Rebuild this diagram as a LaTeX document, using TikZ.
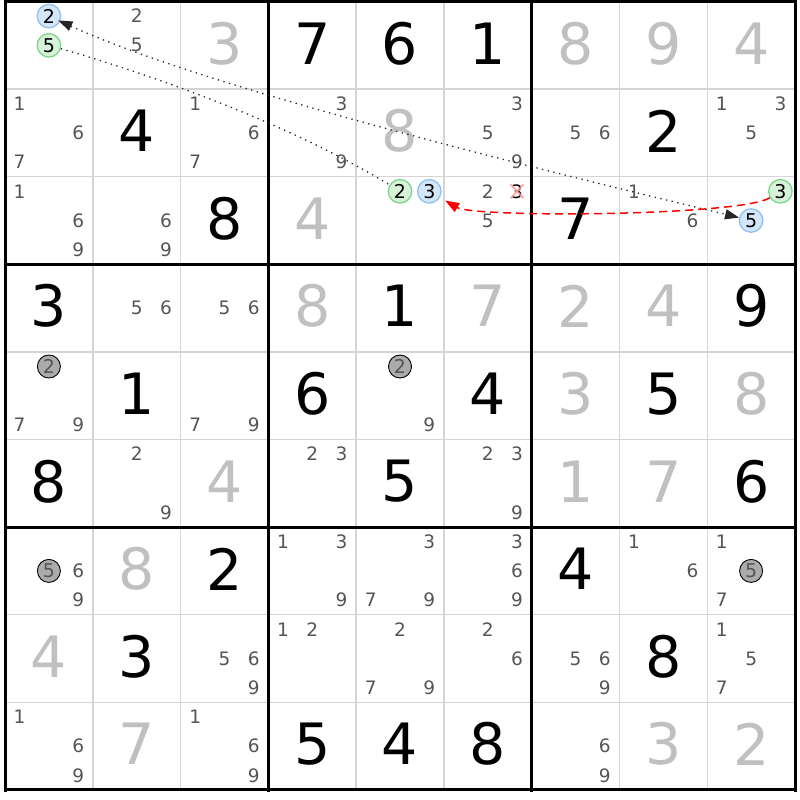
\documentclass[tikz,border=0pt]{standalone}
\usepackage{fontspec}
\setmainfont{DejaVu Sans}
\usetikzlibrary{arrows.meta}
\definecolor{candgray}{HTML}{555555}
\definecolor{G}{HTML}{C0C0C0}
\colorlet{B}{black}
\definecolor{gridthin}{HTML}{D4D4D4}
\definecolor{bluefill}{HTML}{D4E6FA}
\definecolor{blueline}{HTML}{8EC0F2}
\definecolor{greenfill}{HTML}{D6F2D8}
\definecolor{greenline}{HTML}{7ED68A}
\definecolor{grayfill}{HTML}{ABABAB}
\definecolor{xpink}{HTML}{FF9A9A}
\tikzset{
  given/.style={inner sep=0pt, font=\fontsize{57}{60}\selectfont},
  cand/.style={inner sep=0pt, text=candgray, font=\fontsize{18.5}{20}\selectfont},
  hlblue/.style={circle, inner sep=0pt, minimum size=23.5pt, draw=blueline, line width=1.3pt, fill=bluefill, text=black, font=\fontsize{19}{20}\selectfont},
  hlgreen/.style={circle, inner sep=0pt, minimum size=23.5pt, draw=greenline, line width=1.3pt, fill=greenfill, text=black, font=\fontsize{19}{20}\selectfont},
  hlgray/.style={circle, inner sep=0pt, minimum size=23pt, draw=black, line width=0.9pt, fill=grayfill, text=candgray, font=\fontsize{19}{20}\selectfont},
  weaklink/.style={line width=1.3pt, black!85, dash pattern=on 1.3pt off 4.5pt},
  stronglink/.style={line width=1.5pt, red, dash pattern=on 8pt off 5pt},
  chaintip/.style={-{Triangle[length=14pt,width=10pt]}},
}
\begin{document}
\begin{tikzpicture}[x=1pt,y=-1pt]
\useasboundingbox (0,0) rectangle (800,800);
\fill[white] (0,0) rectangle (800,800);
% thin grid lines
\foreach \i in {1,2,4,5,7,8}{
  \pgfmathsetmacro\gx{5+\i*87.78}
  \pgfmathsetmacro\gy{1.5+\i*87.6}
  \draw[gridthin, line width=1.5pt] (\gx,1.5) -- (\gx,790);
  \draw[gridthin, line width=1.5pt] (5,\gy) -- (795,\gy);
}
% thick grid lines
\foreach \i in {0,3,6,9}{
  \pgfmathsetmacro\gx{5+\i*87.78}
  \pgfmathsetmacro\gy{1.5+\i*87.6}
  \draw[black, line width=3pt] (\gx,0) -- (\gx,791.5);
  \draw[black, line width=3pt] (3.5,\gy) -- (796.5,\gy);
}
% big digits
\foreach \r/\c/\d/\col in {
  1/3/3/G,1/4/7/B,1/5/6/B,1/6/1/B,1/7/8/G,1/8/9/G,1/9/4/G,
  2/2/4/B,2/5/8/G,2/8/2/B,
  3/3/8/B,3/4/4/G,3/7/7/B,
  4/1/3/B,4/4/8/G,4/5/1/B,4/6/7/G,4/7/2/G,4/8/4/G,4/9/9/B,
  5/2/1/B,5/4/6/B,5/6/4/B,5/7/3/G,5/8/5/B,5/9/8/G,
  6/1/8/B,6/3/4/G,6/5/5/B,6/7/1/G,6/8/7/G,6/9/6/B,
  7/2/8/G,7/3/2/B,7/7/4/B,
  8/1/4/G,8/2/3/B,8/8/8/B,
  9/2/7/G,9/4/5/B,9/5/4/B,9/6/8/B,9/8/3/G,9/9/2/G}{
  \pgfmathsetmacro\px{5+(\c-0.5)*87.78}
  \pgfmathsetmacro\py{1.5+(\r-0.5)*87.6-2}
  \node[given, text=\col] (g\r\c) at (\px,\py) {\d};
}
% plain candidates
\foreach \r/\c/\ds in {
  1/2/{2,5},
  2/1/{1,6,7},2/3/{1,6,7},2/4/{3,9},2/6/{3,5,9},2/7/{5,6},2/9/{1,3,5},
  3/1/{1,6,9},3/2/{6,9},3/6/{2,5},3/8/{1,6},
  4/2/{5,6},4/3/{5,6},
  5/1/{7,9},5/3/{7,9},5/5/{9},
  6/2/{2,9},6/4/{2,3},6/6/{2,3,9},
  7/1/{6,9},7/4/{1,3,9},7/5/{3,7,9},7/6/{3,6,9},7/8/{1,6},7/9/{1,7},
  8/3/{5,6,9},8/4/{1,2},8/5/{2,7,9},8/6/{2,6},8/7/{5,6,9},8/9/{1,5,7},
  9/1/{1,6,9},9/3/{1,6,9},9/7/{6,9}}{
  \foreach \d in \ds {
    \pgfmathsetmacro\kk{mod(\d-1,3)}
    \pgfmathsetmacro\jj{int((\d-1)/3)}
    \pgfmathsetmacro\px{5+(\c-1)*87.78+(2*\kk+1)*87.78/6}
    \pgfmathsetmacro\py{1.5+(\r-1)*87.6+(2*\jj+1)*87.6/6}
    \node[cand] (k\r\c\d) at (\px,\py) {\d};
  }
}
% eliminated candidate r3c6 3
\node[cand, text=black] (k363) at (517.05,191.3) {3};
\draw[xpink, line width=1.8pt, opacity=0.85] ([shift={(-6.5,-7)}]k363.center) -- ([shift={(6.5,7)}]k363.center);
\draw[xpink, line width=1.8pt, opacity=0.85] ([shift={(6.5,-7)}]k363.center) -- ([shift={(-6.5,7)}]k363.center);
% gray circled candidates
\node[hlgray] (k512) at (48.9,366.5) {2};
\node[hlgray] (k552) at (400.0,366.5) {2};
\node[hlgray] (k715) at (48.9,570.9) {5};
\node[hlgray] (k795) at (751.1,570.9) {5};
% chain candidates
\node[hlblue]  (h11b) at (48.9,16.1) {2};
\node[hlgreen] (h11g) at (48.9,45.3) {5};
\node[hlgreen] (h35g) at (400.0,191.3) {2};
\node[hlblue]  (h35b) at (429.3,191.3) {3};
\node[hlgreen] (h39g) at (780.4,191.3) {3};
\node[hlblue]  (h39b) at (751.1,220.5) {5};
% links
\draw[weaklink] (h11g) .. controls (170,80) and (300,130) .. (h35g);
\draw[weaklink, {Triangle[length=14pt,width=10pt]}-{Triangle[length=14pt,width=10pt]}, shorten <=-2pt] (h11b) .. controls (200,85) and (500,160) .. (h39b);
\draw[stronglink, chaintip, shorten >=6pt] (h39g) .. controls (740,216) and (475,218) .. (h35b);
\end{tikzpicture}
\end{document}
